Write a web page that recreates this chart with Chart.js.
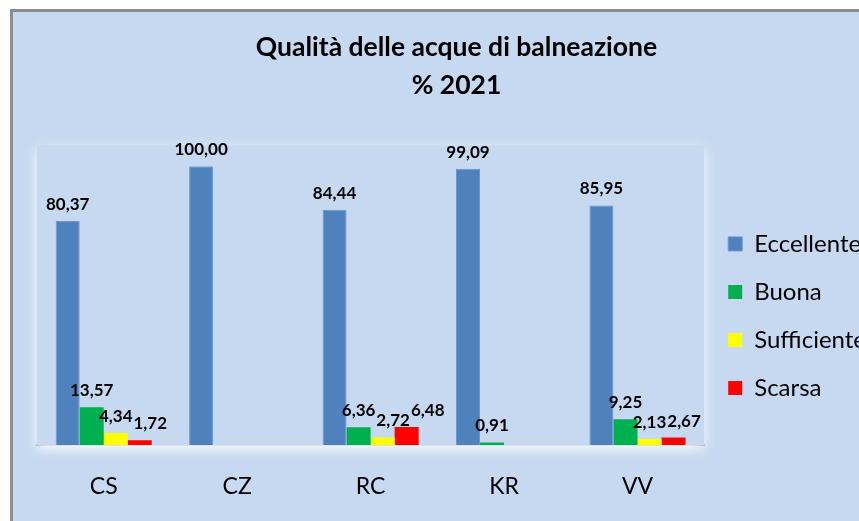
<!DOCTYPE html>
<html lang="it">
<head>
<meta charset="utf-8">
<script src="https://cdn.jsdelivr.net/npm/chart.js@4.4.1/dist/chart.umd.min.js"></script>
<style>
    html, body { margin: 0; padding: 0; background: #ffffff; }
    #cornice {
        position: absolute; left: 10px; top: 9px; width: 849px; height: 512px;
        border-top: 3px solid #8c8c8c; border-left: 3px solid #8c8c8c;
        background: #c6d9f0;
    }
    #graficoBalneazione { position: absolute; left: 13px; top: 12px; }
</style>
</head>
<body>
<div id="cornice"></div>
<canvas id="graficoBalneazione" width="846" height="509"></canvas>
<script>
// Dati (valori %)
const province = ['CS', 'CZ', 'RC', 'KR', 'VV'];
const eccellente = [80.37, 100.00, 84.44, 99.09, 85.95];
const buona = [13.57, null, 6.36, 0.91, 9.25];
const sufficiente = [4.34, null, 2.72, null, 2.13];
const scarsa = [1.72, null, 6.48, null, 2.67];

const FONT = 'Lato, "Open Sans", sans-serif';
const SFONDO = '#c6d9f0';

// alone bianco attorno all'area del grafico
const aloneArea = {
    id: 'aloneArea',
    beforeDatasetsDraw(chart) {
        const { ctx, chartArea: a } = chart;
        ctx.save();
        ctx.shadowColor = 'rgba(255,255,255,0.95)';
        ctx.shadowBlur = 12;
        ctx.shadowOffsetY = 4;
        ctx.fillStyle = SFONDO;
        ctx.fillRect(a.left, a.top - 21, a.right - a.left, a.bottom - a.top + 21);
        ctx.restore();
    }
};

// etichette dei valori sopra le barre (spostate a destra se si sovrappongono)
const etichetteValori = {
    id: 'etichetteValori',
    afterDatasetsDraw(chart) {
        const { ctx } = chart;
        const h = 17;
        ctx.save();
        ctx.font = 'bold 17px ' + FONT;
        ctx.fillStyle = '#000000';
        ctx.textAlign = 'center';
        ctx.textBaseline = 'bottom';
        const occupate = {}; // riquadri già disegnati per categoria
        chart.data.datasets.forEach((ds, i) => {
            const meta = chart.getDatasetMeta(i);
            meta.data.forEach((bar, j) => {
                const v = ds.data[j];
                if (v === null || v === undefined) return;
                const testo = v.toFixed(2).replace('.', ',');
                const w = ctx.measureText(testo).width;
                const yb = bar.y - 8;
                let x = bar.x;
                const lista = occupate[j] || (occupate[j] = []);
                lista.forEach(r => {
                    const sovrapY = yb > r.top && yb - h < r.bottom;
                    if (sovrapY && x - w / 2 < r.right + 1 && x + w / 2 > r.left) {
                        x = r.right + 1 + w / 2;
                    }
                });
                lista.push({ left: x - w / 2, right: x + w / 2, top: yb - h, bottom: yb });
                ctx.fillText(testo, x, yb);
            });
        });
        ctx.restore();
    }
};

const ctx = document.getElementById('graficoBalneazione').getContext('2d');
new Chart(ctx, {
    type: 'bar',
    data: {
        labels: province,
        datasets: [
            { label: 'Eccellente', data: eccellente, backgroundColor: '#4f81bd', borderColor: '#6b95cc', borderWidth: 1 },
            { label: 'Buona', data: buona, backgroundColor: '#00b050' },
            { label: 'Sufficiente', data: sufficiente, backgroundColor: '#ffff00' },
            { label: 'Scarsa', data: scarsa, backgroundColor: '#ff0000' }
        ]
    },
    options: {
        responsive: false,
        animation: false,
        categoryPercentage: 0.72,
        barPercentage: 1,
        layout: { padding: { left: 24, right: -17, bottom: 0 } },
        plugins: {
            title: {
                display: true,
                text: ['Qualità delle acque di balneazione', '% 2021'],
                color: '#000000',
                font: { family: FONT, size: 26.5, weight: 'bold', lineHeight: 1.44 },
                padding: { top: 16, bottom: 62 }
            },
            legend: {
                position: 'right',
                title: { display: true, text: '', font: { size: 4 }, padding: { top: 94, bottom: 0 } },
                labels: {
                    color: '#000000',
                    font: { family: FONT, size: 24 },
                    boxWidth: 14,
                    boxHeight: 14,
                    padding: 24
                }
            },
            tooltip: { enabled: false }
        },
        scales: {
            x: {
                grid: { display: false, drawTicks: false },
                border: { display: true, color: '#a0a0a0', width: 2 },
                ticks: { color: '#000000', font: { family: FONT, size: 23 }, padding: 28 },
                afterFit: (scale) => { scale.height = 76; }
            },
            y: {
                display: false,
                min: 0,
                max: 100
            }
        }
    },
    plugins: [aloneArea, etichetteValori]
});
</script>
</body>
</html>
